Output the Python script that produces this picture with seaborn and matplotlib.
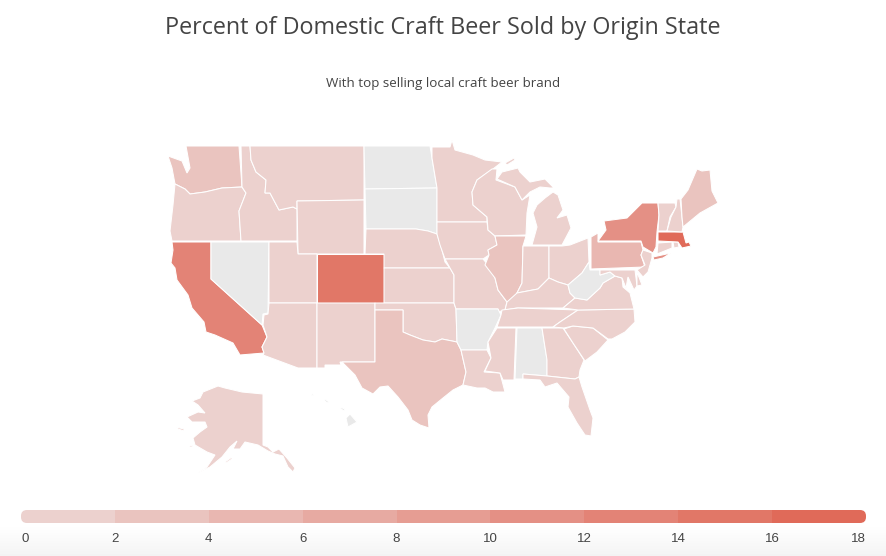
import numpy as np
import matplotlib
matplotlib.use("Agg")
import matplotlib.pyplot as plt
from matplotlib.patches import FancyBboxPatch
import seaborn as sns

sns.set_theme(style="white")
plt.rcParams['font.family'] = ['Open Sans', 'DejaVu Sans']

# ── Data ──────────────────────────────────────────────────────────────────────
STATES = ['WA','OR','CA','NV','ID','MT','WY','UT','CO','AZ','NM','ND','SD','NE','KS','OK','TX',
          'MN','IA','MO','AR','LA','WI','IL','MI','IN','OH','KY','TN','MS','AL','GA','FL','SC','NC',
          'VA','WV','MD','DE','PA','NJ','NY','CT','RI','MA','VT','NH','ME','AK','HI']
# percent sold, nan = no data
PERCENT = [3,1,12,np.nan,1,1,1,1,15,1,1,np.nan,np.nan,1,1,1,3,
           1,1,1,np.nan,1,1,3,1,1,1,1,1,1,np.nan,1,1,1,1,
           1,np.nan,1,1,5,1,10,1,1,17,1,1,3,1,np.nan]
LEGEND_TICKS = [0,2,4,6,8,10,12,14,16,18]
TITLE = 'Percent of Domestic Craft Beer Sold by Origin State'
SUBTITLE = 'With top selling local craft beer brand'

# state outlines (no geo library here)
SHAPES = {
 'WA': [[(186,146),(239,146),(242,187),(222,188),(205,192),(190,194),(185,189),(175,184),(172,168),(168,156),(182,161),(187,173),(190,168)]],
 'OR': [[(175,184),(185,189),(190,194),(205,192),(222,188),(242,187),(246,193),(239,211),(241,241),(172,241),(170,231),(173,205)]],
 'CA': [[(172,242),(211,242),(211,279),(262,325),(267,337),(262,347),(264,353),(240,355),(233,343),(215,335),(206,332),(204,322),(192,308),(188,295),(177,280),(175,268),(171,263),(173,250)]],
 'NV': [[(211,242),(269,242),(268,313),(263,314),(262,325),(211,279)]],
 'ID': [[(241,146),(250,146),(251,160),(256,172),(266,180),(265,193),(270,193),(279,210),(293,207),(297,209),(297,241),(241,241),(239,211),(246,193),(242,187)]],
 'MT': [[(250,146),(364,146),(364,200),(297,201),(297,209),(293,207),(279,210),(270,193),(265,193),(266,180),(256,172),(251,160)]],
 'WY': [[(297,201),(364,200),(364,254),(298,254)]],
 'UT': [[(269,242),(297,242),(298,254),(317,254),(317,303),(269,303)]],
 'CO': [[(317,254),(384,254),(384,303),(317,303)]],
 'AZ': [[(269,303),(317,303),(317,368),(298,368),(263,355),(264,353),(262,347),(267,337),(263,325),(264,315),(268,314)]],
 'NM': [[(317,303),(375,303),(375,362),(340,362),(341,365),(325,365),(325,368),(317,368)]],
 'ND': [[(364,146),(430,146),(432,158),(437,188),(365,189)]],
 'SD': [[(365,189),(437,188),(437,234),(428,231),(416,229),(366,229)]],
 'NE': [[(366,229),(416,229),(428,231),(437,234),(442,250),(445,262),(450,268),(384,268),(384,254),(365,254)]],
 'KS': [[(384,268),(450,268),(454,275),(454,303),(384,303)]],
 'OK': [[(375,303),(454,303),(456,309),(457,342),(442,339),(435,342),(423,340),(410,335),(403,332),(403,310),(375,310)]],
 'TX': [[(375,310),(403,310),(403,332),(410,335),(423,340),(435,342),(442,339),(457,342),(461,350),(466,372),(463,385),(453,390),(443,398),(432,407),(428,415),(429,428),(420,425),(412,420),(408,410),(398,397),(388,386),(380,387),(373,394),(362,388),(355,375),(342,362),(375,362)]],
 'MN': [[(432,147),(450,147),(452,140),(455,150),(473,155),(485,160),(502,162),(493,169),(477,180),(472,192),(473,205),(487,217),(487,222),(437,222),(437,188),(432,158)]],
 'IA': [[(437,222),(487,222),(488,230),(495,236),(497,245),(488,250),(489,255),(483,259),(445,259),(440,245),(437,234)]],
 'MO': [[(445,259),(483,259),(489,266),(495,278),(498,290),(507,302),(505,310),(498,312),(498,309),(456,309),(454,303),(454,275),(450,268)]],
 'AR': [[(456,309),(498,309),(501,315),(495,328),(488,342),(487,350),(461,350),(457,342)]],
 'LA': [[(461,350),(487,350),(491,358),(484,372),(500,373),(505,392),(493,392),(485,388),(477,388),(463,385),(466,372)]],
 'WI': [[(472,192),(477,180),(492,169),(497,169),(496,180),(515,187),(522,200),(530,195),(527,213),(526,235),(495,236),(488,230),(487,217),(473,205)]],
 'IL': [[(495,236),(526,236),(523,246),(522,283),(517,293),(513,302),(507,302),(498,290),(495,278),(485,265),(489,255),(488,250),(497,245)]],
 'MI': [[(532,245),(537,227),(533,213),(537,205),(545,198),(553,192),(558,195),(563,210),(557,218),(567,215),(571,228),(562,245)],
        [(497,179),(502,172),(518,168),(520,172),(530,182),(545,179),(553,187),(560,188),(550,188),(540,187),(530,192),(522,200),(515,187)],
        [(505,163),(514,158),(515,160),(507,165)]],
 'IN': [[(523,246),(549,246),(549,278),(538,289),(517,293),(522,283)]],
 'OH': [[(549,246),(562,246),(570,245),(588,238),(589,262),(582,273),(568,285),(558,282),(549,278)]],
 'KY': [[(507,302),(517,293),(538,289),(549,278),(558,282),(568,285),(570,293),(575,298),(563,308),(517,308),(505,310)]],
 'TN': [[(502,310),(518,308),(578,310),(560,322),(553,327),(497,327),(501,315)]],
 'MS': [[(497,328),(516,328),(514,380),(503,380),(500,373),(485,371),(491,358),(488,342)]],
 'AL': [[(517,328),(542,328),(547,360),(547,376),(523,374),(523,379),(515,379)]],
 'GA': [[(542,328),(563,328),(573,343),(584,360),(580,370),(579,377),(575,379),(547,376),(547,360)]],
 'FL': [[(523,374),(547,376),(575,379),(579,377),(582,387),(590,410),(593,418),(591,436),(585,435),(577,423),(568,407),(569,397),(557,383),(545,387),(540,380),(523,379)]],
 'SC': [[(564,329),(573,326),(593,328),(608,340),(597,352),(585,361),(573,343)]],
 'NC': [[(578,310),(634,309),(635,322),(625,332),(612,339),(608,339),(593,328),(573,326),(564,328),(553,327),(560,322)]],
 'VA': [[(563,308),(575,298),(587,300),(600,288),(603,283),(615,276),(622,278),(623,287),(630,293),(634,309),(578,310)]],
 'WV': [[(568,285),(582,273),(589,262),(590,270),(600,270),(600,275),(610,272),(615,276),(603,283),(600,288),(587,300),(575,298),(570,293)]],
 'MD': [[(600,270),(635,270),(637,286),(634,290),(628,277),(626,288),(622,278),(615,276),(610,272),(600,275)]],
 'DE': [[(637,272),(642,285),(637,286)]],
 'PA': [[(591,237),(598,233),(598,242),(641,242),(643,250),(641,255),(645,267),(591,269)]],
 'NJ': [[(643,250),(652,253),(652,258),(648,272),(643,277),(637,270),(645,265),(641,255)]],
 'NY': [[(598,241),(606,230),(604,221),(627,218),(642,203),(658,203),(659,215),(657,232),(656,247),(653,253),(643,247),(641,241)],
        [(653,257),(671,253),(663,258),(654,260)]],
 'CT': [[(658,243),(672,242),(672,248),(657,254)]],
 'RI': [[(673,242),(678,242),(679,247),(674,248)]],
 'MA': [[(658,232),(683,232),(686,243),(689,242),(691,246),(682,248),(678,242),(658,241)]],
 'VT': [[(658,203),(675,203),(676,207),(670,217),(667,231),(658,231),(659,215)]],
 'NH': [[(677,199),(680,199),(682,217),(683,227),(682,232),(667,231),(671,217),(676,207)]],
 'ME': [[(681,199),(688,190),(697,169),(702,171),(710,170),(712,191),(718,203),(700,213),(683,227),(682,217)]],
 'AK': [[(218,386),(225,388),(242,392),(263,394),(263,445),(268,447),(273,452),(279,449),(287,458),(295,468),(293,472),(288,467),(283,456),(275,454),(268,451),(258,445),(245,442),(240,449),(233,449),(237,441),(230,447),(222,457),(210,467),(198,473),(207,467),(215,455),(207,452),(195,445),(193,438),(200,432),(207,427),(205,422),(192,422),(187,417),(198,412),(205,413),(198,405),(192,401),(200,398),(203,392)],
        [(176,427),(184,429),(184,431),(178,429)],
        [(189,445),(193,446),(193,447),(190,447)],
        [(225,462),(232,457),(232,459),(226,463)]],
 'HI': [[(346,418),(350,414),(357,422),(348,427)],
        [(340,407),(345,409),(344,411),(341,409)],
        [(325,399),(329,402),(327,403),(324,400)],
        [(311,393),(314,395),(312,396)]],
}

# ── Colours ───────────────────────────────────────────────────────────────────
pal = sns.blend_palette(['#ecd1ce', '#e06a59'], 9)
NO_DATA = '#e9e9e9'

fig = plt.figure(figsize=(8.86, 5.56), dpi=100, facecolor='white')
ax = fig.add_axes([0, 0, 1, 1])

# faint grey fade at the bottom of the card
fade = np.linspace(1.0, 0.955, 32).reshape(-1, 1)
ax.imshow(fade, cmap='gray', vmin=0, vmax=1, extent=[0, 886, 556, 524], aspect='auto', zorder=0)
ax.set_xlim(0, 886)
ax.set_ylim(556, 0)
ax.axis('off')

# ── Map ───────────────────────────────────────────────────────────────────────
for st, val in zip(STATES, PERCENT):
    col = NO_DATA if np.isnan(val) else pal[int(val // 2)]
    for part in SHAPES[st]:
        xs, ys = zip(*part)
        ax.fill(xs, ys, facecolor=col, edgecolor='white', linewidth=0.75, zorder=2)

ax.text(443, 27.5, TITLE, ha='center', va='center', fontsize=16.8, color='#444444')
ax.text(443, 83, SUBTITLE, ha='center', va='center', fontsize=9.6, color='#444444')

# ── Legend bar ────────────────────────────────────────────────────────────────
cax = fig.add_axes([21/886, 1 - 523/556, 845/886, 13/556])
sns.heatmap(np.arange(9).reshape(1, -1), cmap=pal, cbar=False, ax=cax, linewidths=0)
# rounded ends: clip in pixel space so the radius stays circular
pill = FancyBboxPatch((21, 510), 845, 13, boxstyle='round,pad=0,rounding_size=6',
                      transform=ax.transData, facecolor='none', edgecolor='none')
ax.add_patch(pill)
cax.collections[0].set_clip_path(pill)
cax.patch.set_alpha(0)
cax.set_yticks([])
cax.set_xticks(range(len(LEGEND_TICKS)))
cax.set_xticklabels(LEGEND_TICKS, rotation=0, fontsize=9.5, color='#444444',
                    family=['Liberation Sans', 'DejaVu Sans'])
cax.tick_params(axis='x', length=0, pad=7)
labels = cax.get_xticklabels()
labels[0].set_ha('left')
labels[-1].set_ha('right')

fig.savefig('out.png', dpi=100)
plt.close()
